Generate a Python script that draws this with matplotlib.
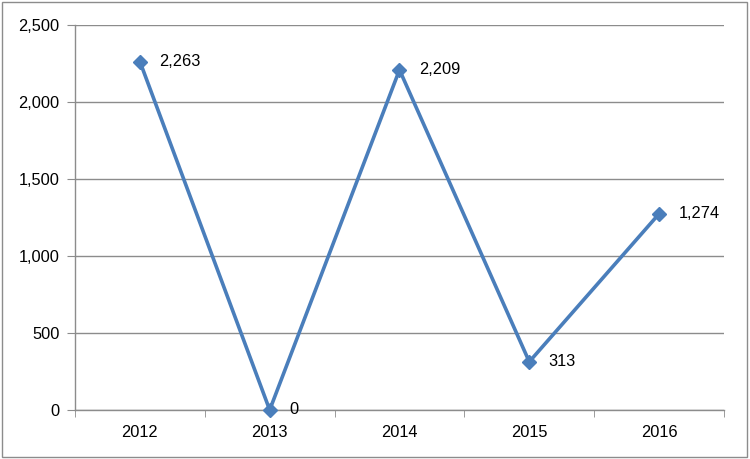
import matplotlib.pyplot as plt
from matplotlib.patches import Rectangle
from matplotlib.ticker import FuncFormatter, FixedLocator

years = ['2012', '2013', '2014', '2015', '2016']
values = [2263, 0, 2209, 313, 1274]
y_ticks = [0, 500, 1000, 1500, 2000, 2500]

plt.rcParams['font.family'] = ['Liberation Sans', 'DejaVu Sans']

fig = plt.figure(figsize=(7.5, 4.59), dpi=100)
ax = fig.add_axes([0.1, 0.1068, 0.8653, 0.8387])

line_color = '#4a7ebb'
grid_color = '#8c8c8c'
fs = 11.8

x = list(range(len(years)))
ax.plot(x, values, color=line_color, linewidth=2.6, marker='D', markersize=7.5,
        markerfacecolor=line_color, markeredgecolor=line_color, zorder=3, clip_on=False)

for xi, v in zip(x, values):
    ax.annotate(f'{v:,}', (xi, v), xytext=(14, 0), textcoords='offset points',
                va='center', ha='left', fontsize=fs, color='black')

ax.set_xlim(-0.5, len(years) - 0.5)
ax.set_ylim(0, 2500)
ax.set_yticks(y_ticks)
ax.yaxis.set_major_formatter(FuncFormatter(lambda v, p: f'{int(v):,}'))
ax.yaxis.grid(True, color=grid_color, linewidth=1)
ax.set_axisbelow(True)

ax.set_xticks(x)
ax.set_xticklabels(years)
ax.xaxis.set_minor_locator(FixedLocator([i - 0.5 for i in range(len(years) + 1)]))
ax.tick_params(axis='x', which='major', length=0, pad=11, labelsize=fs)
ax.tick_params(axis='x', which='minor', length=5, color=grid_color, direction='out')
ax.tick_params(axis='y', length=6, color=grid_color, pad=5, labelsize=fs)

for s in ['top', 'right']:
    ax.spines[s].set_visible(False)
for s in ['left', 'bottom']:
    ax.spines[s].set_color(grid_color)
    ax.spines[s].set_linewidth(1)

# outer chart border
fig.patches.append(Rectangle((0.002, 0.004), 0.994, 0.992, transform=fig.transFigure,
                             fill=False, edgecolor='#8c8c8c', linewidth=1))

fig.savefig('out.png', dpi=100)
